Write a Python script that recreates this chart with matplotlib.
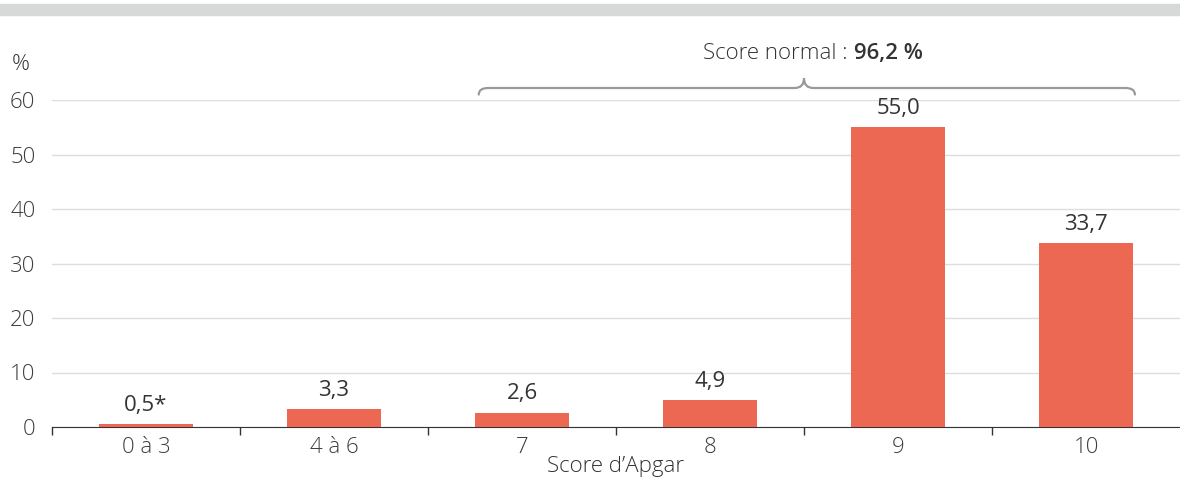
import numpy as np
import matplotlib.pyplot as plt
from matplotlib.path import Path
from matplotlib.patches import PathPatch, Rectangle

plt.rcParams['font.family'] = ['Open Sans', 'DejaVu Sans']

categories = ['0 à 3', '4 à 6', '7', '8', '9', '10']
values = [0.5, 3.3, 2.6, 4.9, 55.0, 33.7]
labels = ['0,5*', '3,3', '2,6', '4,9', '55,0', '33,7']
yticks = [0, 10, 20, 30, 40, 50, 60]

bar_color = '#ec6852'
txt = '#333333'

fig = plt.figure(figsize=(11.8, 4.83), dpi=100)
ax = fig.add_axes([52/1180, 56/483, 1 - 52/1180, 327/483])

# grey band on top
fig.patches.append(Rectangle((0, (483-15)/483), 1, 11/483, transform=fig.transFigure,
                             color='#d7d9d8', zorder=0))

x = np.arange(len(categories))
ax.bar(x, values, width=0.5, color=bar_color, zorder=3)
for xi, v, l in zip(x, values, labels):
    ax.annotate(l, (xi, v), xytext=(0, 6), textcoords='offset points',
                ha='center', va='bottom', fontsize=16, color=txt)

ax.set_xlim(-0.5, 5.5)
ax.set_ylim(0, 60)
ax.set_yticks(yticks)
ax.set_xticks(x)
ax.set_xticklabels(categories)
ax.set_xticks(np.arange(-0.5, 5.5, 1), minor=True)
ax.tick_params(axis='x', which='major', length=0, pad=7, labelsize=16, labelcolor='#3c3c3c')
ax.tick_params(axis='x', which='minor', length=6, width=1, color='#333333')
ax.tick_params(axis='y', length=0, pad=12, labelsize=16, labelcolor='#3c3c3c')
for t in ax.get_yticklabels() + ax.get_xticklabels():
    t.set_fontweight('light')
ax.grid(axis='y', color='#dddddd', lw=1, zorder=0)
ax.set_axisbelow(True)
for s in ['left', 'right', 'top']:
    ax.spines[s].set_visible(False)
ax.spines['bottom'].set_color('#333333')
ax.set_xlabel("Score d\u2019Apgar", fontsize=16, color=txt, labelpad=-1, fontweight='light')

fig.text(21/1180, 1 - 65/483, '%', fontsize=16, color=txt, ha='center', va='center',
         fontweight='light')

# brace over scores 7 to 10
x0, x1, xm = 1.77, 5.26, 3.5
yb, yl, yt = 61.0, 62.2, 64.0
r = 0.05
verts = [(x0, yb), (x0, yl), (x0 + r, yl),
         (xm - r, yl), (xm, yl), (xm, yt),
         (xm, yl), (xm + r, yl),
         (x1 - r, yl), (x1, yl), (x1, yb)]
codes = [Path.MOVETO, Path.CURVE3, Path.CURVE3,
         Path.LINETO, Path.CURVE3, Path.CURVE3,
         Path.CURVE3, Path.CURVE3,
         Path.LINETO, Path.CURVE3, Path.CURVE3]
ax.add_patch(PathPatch(Path(verts, codes), fill=False, edgecolor='#9a9a9a', lw=1.6,
                       clip_on=False, capstyle='round'))
ax.text(3.73, 68.6, 'Score normal :', ha='right', va='center', fontsize=16, color=txt,
        fontweight='light')
ax.text(3.765, 68.6, '96,2 %', ha='left', va='center', fontsize=16, color=txt,
        fontweight='semibold')

fig.savefig('out.png', dpi=100)
